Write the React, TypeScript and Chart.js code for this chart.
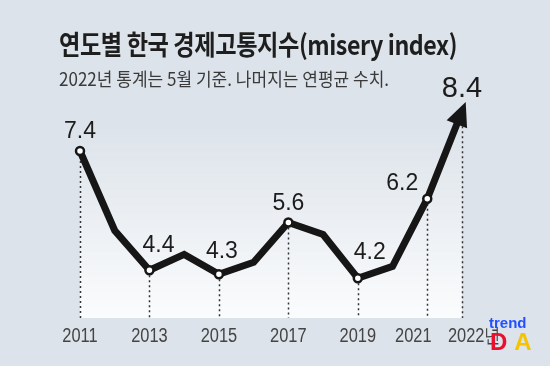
import React, { useEffect, useRef } from "react";
import { Chart, registerables } from "chart.js";

Chart.register(...registerables);

const years = ["2011", "2012", "2013", "2014", "2015", "2016", "2017", "2018", "2019", "2020", "2021", "2022"];
const miseryIndex = [7.4, 5.4, 4.4, 4.8, 4.3, 4.6, 5.6, 5.3, 4.2, 4.5, 6.2, 8.4];
const valueLabels = ["7.4", "", "4.4", "", "4.3", "", "5.6", "", "4.2", "", "6.2", "8.4"];
const tickLabels = ["2011", "", "2013", "", "2015", "", "2017", "", "2019", "", "2021", "2022년"];
const titleText = "연도별 한국 경제고통지수(misery index)";
const subtitleText = "2022년 통계는 5월 기준. 나머지는 연평균 수치.";

// style-only arrays
const markerRadius = [4, 0, 4, 0, 4, 0, 4, 0, 4, 0, 4, 0];
const labelOffsets: [number, number][] = [
  [0, -13], [0, 0], [9, -18], [0, 0], [3, -16], [0, 0], [0, -13], [0, 0], [12, -19], [0, 0], [-25, -9], [0, -14],
];
const tickDx = [0, 0, 0, 0, 0, 0, 0, 0, 0, 0, -14, -14];

const BG = "#dce3ea";
const INK = "#161616";

const decorPlugin = {
  id: "decor",
  beforeDatasetsDraw(chart: any) {
    const { ctx, chartArea } = chart;
    const meta = chart.getDatasetMeta(0);
    ctx.save();
    const g = ctx.createLinearGradient(0, 120, 0, chartArea.bottom);
    g.addColorStop(0, "rgba(255,255,255,0)");
    g.addColorStop(1, "rgba(255,255,255,0.88)");
    ctx.fillStyle = g;
    ctx.fillRect(chartArea.left, 120, chartArea.right - chartArea.left, chartArea.bottom - 120);
    ctx.strokeStyle = "#333";
    ctx.lineWidth = 1.5;
    ctx.setLineDash([2, 3]);
    meta.data.forEach((p: any, i: number) => {
      if (markerRadius[i] > 0 || i === meta.data.length - 1) {
        ctx.beginPath();
        ctx.moveTo(Math.round(p.x) + 0.5, p.y);
        ctx.lineTo(Math.round(p.x) + 0.5, chartArea.bottom);
        ctx.stroke();
      }
    });
    ctx.restore();
  },
  afterDatasetsDraw(chart: any) {
    const { ctx, chartArea } = chart;
    const meta = chart.getDatasetMeta(0);
    const n = meta.data.length;
    const a = meta.data[n - 2];
    const b = meta.data[n - 1];
    const dx = b.x - a.x;
    const dy = b.y - a.y;
    const len = Math.hypot(dx, dy);
    const ux = dx / len;
    const uy = dy / len;
    const tipX = b.x + ux * 10;
    const tipY = b.y + uy * 10;
    const baseX = tipX - ux * 24;
    const baseY = tipY - uy * 24;
    const hw = 11;
    ctx.save();
    ctx.fillStyle = INK;
    ctx.beginPath();
    ctx.moveTo(tipX, tipY);
    ctx.lineTo(baseX - uy * hw, baseY + ux * hw);
    ctx.lineTo(baseX + uy * hw, baseY - ux * hw);
    ctx.closePath();
    ctx.fill();

    // value labels
    ctx.fillStyle = "#1c1c1c";
    ctx.textAlign = "center";
    ctx.textBaseline = "alphabetic";
    meta.data.forEach((p: any, i: number) => {
      const t = valueLabels[i];
      if (!t) return;
      ctx.font = (i === n - 1 ? "29px" : "23px") + ' "Liberation Sans", Arial, sans-serif';
      ctx.fillText(t, p.x + labelOffsets[i][0], p.y + labelOffsets[i][1]);
    });

    // x tick labels (condensed)
    ctx.fillStyle = "#444";
    ctx.font = '20px "Liberation Sans", Arial, sans-serif';
    const xs = chart.scales.x;
    const sx = 0.82;
    tickLabels.forEach((t, i) => {
      if (!t) return;
      const x = xs.getPixelForValue(i) + tickDx[i];
      ctx.save();
      ctx.translate(x, chartArea.bottom + 24);
      ctx.scale(sx, 1);
      ctx.textAlign = i === n - 1 ? "left" : "center";
      ctx.fillText(t, 0, 0);
      ctx.restore();
    });
    ctx.restore();
  },
};

export default function App() {
  const ref = useRef<HTMLCanvasElement | null>(null);
  useEffect(() => {
    if (!ref.current) return;
    const chart = new Chart(ref.current, {
      type: "line",
      data: {
        labels: years,
        datasets: [
          {
            data: miseryIndex,
            borderColor: INK,
            borderWidth: 7,
            borderJoinStyle: "miter",
            borderCapStyle: "butt",
            pointRadius: markerRadius,
            pointHoverRadius: markerRadius,
            pointBackgroundColor: "#ffffff",
            pointBorderColor: INK,
            pointBorderWidth: 2.5,
            tension: 0,
            fill: false,
            clip: false as any,
          },
        ],
      },
      options: {
        responsive: false,
        animation: false,
        events: [],
        layout: { padding: { left: 80, right: 88, top: 63.5, bottom: 48 } },
        plugins: { legend: { display: false }, tooltip: { enabled: false }, title: { display: false } },
        scales: {
          x: { display: false, offset: false },
          y: { display: false, min: 3.2, max: 9.6 },
        },
      },
      plugins: [decorPlugin],
    });
    return () => chart.destroy();
  }, []);

  return (
    <div style={{ position: "fixed", left: 0, top: 0, width: 550, height: 366, background: BG, overflow: "hidden" }}>
      <canvas ref={ref} width={550} height={366} style={{ position: "absolute", left: 0, top: 0, width: 550, height: 366 }} />
      <div
        style={{
          position: "absolute", left: 59, top: 30, whiteSpace: "nowrap",
          font: 'bold 27px "Noto Sans CJK KR", sans-serif', lineHeight: 1, color: "#1e1e1e",
          transform: "scaleX(0.86)", transformOrigin: "0 0", letterSpacing: "-0.5px",
        }}
      >
        {titleText}
      </div>
      <div
        style={{
          position: "absolute", left: 59, top: 68.5, whiteSpace: "nowrap",
          font: '18.5px "Noto Sans CJK KR", sans-serif', lineHeight: 1, color: "#3a3a3a",
          transform: "scaleX(0.92)", transformOrigin: "0 0",
        }}
      >
        {subtitleText}
      </div>
      <div style={{ position: "absolute", left: 489, top: 315, font: 'bold 15px "Liberation Sans", Arial, sans-serif', color: "#2350ff", lineHeight: 1 }}>
        trend
      </div>
      <div style={{ position: "absolute", left: 490, top: 330, font: '900 24px "Liberation Sans", Arial, sans-serif', lineHeight: 1, letterSpacing: "7px" }}>
        <span style={{ color: "#e8102e" }}>D</span>
        <span style={{ color: "#f7c300" }}>A</span>
      </div>
    </div>
  );
}
